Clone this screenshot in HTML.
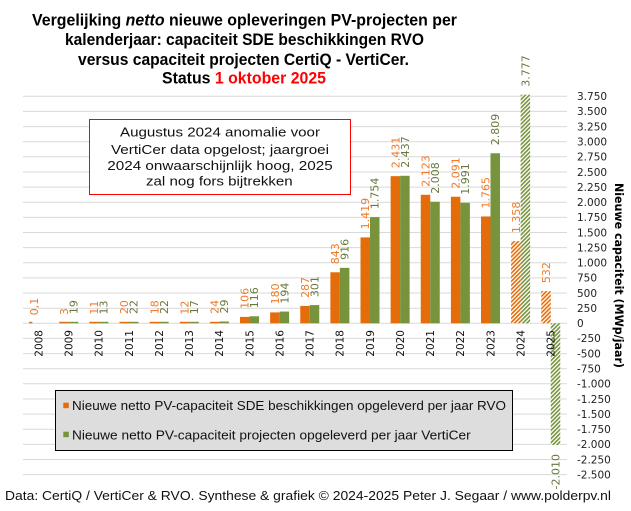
<!DOCTYPE html>
<html><head><meta charset="utf-8"><style>
html,body{margin:0;padding:0;background:#fff;}
svg{display:block;}
text{font-family:"DejaVu Sans","Liberation Sans",sans-serif;}
.ls{font-family:"Liberation Sans","DejaVu Sans",sans-serif;}
</style></head><body>
<svg width="631" height="511" viewBox="0 0 631 511" xmlns="http://www.w3.org/2000/svg">
<defs>
<pattern id="ho" width="2.9" height="2.9" patternUnits="userSpaceOnUse" patternTransform="rotate(45)"><rect width="2.9" height="2.9" fill="#fff"/><rect width="1.6" height="2.9" fill="#E46C0A"/></pattern>
<pattern id="hg" width="2.9" height="2.9" patternUnits="userSpaceOnUse" patternTransform="rotate(45)"><rect width="2.9" height="2.9" fill="#fff"/><rect width="1.6" height="2.9" fill="#77933C"/></pattern>
</defs>
<rect width="631" height="511" fill="#fff"/>
<!-- title -->
<g font-weight="bold" font-size="16.5" fill="#000" class="ls">
<text class="ls" x="32" y="25.5" textLength="425" lengthAdjust="spacingAndGlyphs">Vergelijking  <tspan font-style="italic">netto</tspan> nieuwe opleveringen  PV-projecten per</text>
<text class="ls" x="65" y="45.2" textLength="359" lengthAdjust="spacingAndGlyphs">kalenderjaar: capaciteit  SDE beschikkingen  RVO</text>
<text class="ls" x="78" y="64.8" textLength="331" lengthAdjust="spacingAndGlyphs">versus capaciteit  projecten CertiQ - VertiCer.</text>
<text class="ls" x="162" y="83.5" textLength="164" lengthAdjust="spacingAndGlyphs">Status <tspan fill="#FF0000">1 oktober 2025</tspan></text>
</g>
<!-- gridlines -->
<g stroke="#D9D9D9" stroke-width="1">
<line x1="23" x2="567" y1="96.3" y2="96.3"/><line x1="23" x2="567" y1="111.4" y2="111.4"/><line x1="23" x2="567" y1="126.6" y2="126.6"/><line x1="23" x2="567" y1="141.7" y2="141.7"/><line x1="23" x2="567" y1="156.8" y2="156.8"/><line x1="23" x2="567" y1="172" y2="172"/><line x1="23" x2="567" y1="187.1" y2="187.1"/><line x1="23" x2="567" y1="202.2" y2="202.2"/><line x1="23" x2="567" y1="217.4" y2="217.4"/><line x1="23" x2="567" y1="232.5" y2="232.5"/><line x1="23" x2="567" y1="247.6" y2="247.6"/><line x1="23" x2="567" y1="262.8" y2="262.8"/><line x1="23" x2="567" y1="277.9" y2="277.9"/><line x1="23" x2="567" y1="293" y2="293"/><line x1="23" x2="567" y1="308.2" y2="308.2"/><line x1="23" x2="567" y1="323.3" y2="323.3"/><line x1="23" x2="567" y1="338.4" y2="338.4"/><line x1="23" x2="567" y1="353.6" y2="353.6"/><line x1="23" x2="567" y1="368.7" y2="368.7"/><line x1="23" x2="567" y1="383.8" y2="383.8"/><line x1="23" x2="567" y1="399" y2="399"/><line x1="23" x2="567" y1="414.1" y2="414.1"/><line x1="23" x2="567" y1="429.2" y2="429.2"/><line x1="23" x2="567" y1="444.4" y2="444.4"/><line x1="23" x2="567" y1="459.5" y2="459.5"/><line x1="23" x2="567" y1="474.6" y2="474.6"/>
</g>
<!-- right axis labels -->
<g font-size="10.5" fill="#222">
<text x="577" y="96.3" dy=".36em">3.750</text><text x="577" y="111.4" dy=".36em">3.500</text><text x="577" y="126.6" dy=".36em">3.250</text><text x="577" y="141.7" dy=".36em">3.000</text><text x="577" y="156.8" dy=".36em">2.750</text><text x="577" y="172" dy=".36em">2.500</text><text x="577" y="187.1" dy=".36em">2.250</text><text x="577" y="202.2" dy=".36em">2.000</text><text x="577" y="217.4" dy=".36em">1.750</text><text x="577" y="232.5" dy=".36em">1.500</text><text x="577" y="247.6" dy=".36em">1.250</text><text x="577" y="262.8" dy=".36em">1.000</text><text x="577" y="277.9" dy=".36em">750</text><text x="577" y="293" dy=".36em">500</text><text x="577" y="308.2" dy=".36em">250</text><text x="577" y="323.3" dy=".36em">0</text><text x="577" y="338.4" dy=".36em">-250</text><text x="577" y="353.6" dy=".36em">-500</text><text x="577" y="368.7" dy=".36em">-750</text><text x="577" y="383.8" dy=".36em">-1.000</text><text x="577" y="399" dy=".36em">-1.250</text><text x="577" y="414.1" dy=".36em">-1.500</text><text x="577" y="429.2" dy=".36em">-1.750</text><text x="577" y="444.4" dy=".36em">-2.000</text><text x="577" y="459.5" dy=".36em">-2.250</text><text x="577" y="474.6" dy=".36em">-2.500</text>
</g>
<text font-size="11.5" font-weight="bold" fill="#000" textLength="185" lengthAdjust="spacingAndGlyphs" transform="translate(619,183) rotate(90)" dy=".36em">Nieuwe capaciteit (MWp/jaar)</text>
<!-- bars orange -->
<g fill="#E46C0A">
<rect x="29.1" y="321.8" width="3.2" height="1.5"/>
<rect x="59.25" y="321.8" width="9.5" height="1.5"/>
<rect x="89.38" y="321.8" width="9.5" height="1.5"/>
<rect x="119.5" y="321.8" width="9.5" height="1.5"/>
<rect x="149.63" y="321.8" width="9.5" height="1.5"/>
<rect x="179.75" y="321.8" width="9.5" height="1.5"/>
<rect x="209.88" y="321.8" width="9.5" height="1.5"/>
<rect x="240" y="316.88" width="9.5" height="6.42"/>
<rect x="270.13" y="312.4" width="9.5" height="10.9"/>
<rect x="300.25" y="305.93" width="9.5" height="17.37"/>
<rect x="330.38" y="272.27" width="9.5" height="51.03"/>
<rect x="360.5" y="237.41" width="9.5" height="85.89"/>
<rect x="390.63" y="176.15" width="9.5" height="147.15"/>
<rect x="420.75" y="194.79" width="9.5" height="128.51"/>
<rect x="450.88" y="196.73" width="9.5" height="126.57"/>
<rect x="481" y="216.46" width="9.5" height="106.84"/>
</g>
<g fill="#77933C">
<rect x="68.75" y="321.8" width="9.5" height="1.5"/>
<rect x="98.88" y="321.8" width="9.5" height="1.5"/>
<rect x="129" y="321.8" width="9.5" height="1.5"/>
<rect x="159.13" y="321.8" width="9.5" height="1.5"/>
<rect x="189.25" y="321.8" width="9.5" height="1.5"/>
<rect x="219.38" y="321.5" width="9.5" height="1.8"/>
<rect x="249.5" y="316.28" width="9.5" height="7.02"/>
<rect x="279.63" y="311.56" width="9.5" height="11.74"/>
<rect x="309.75" y="305.08" width="9.5" height="18.22"/>
<rect x="339.88" y="267.85" width="9.5" height="55.45"/>
<rect x="370" y="217.13" width="9.5" height="106.17"/>
<rect x="400.13" y="175.79" width="9.5" height="147.51"/>
<rect x="430.25" y="201.76" width="9.5" height="121.54"/>
<rect x="460.38" y="202.78" width="9.5" height="120.52"/>
<rect x="490.5" y="153.27" width="9.5" height="170.03"/>
</g>
<!-- hatched -->
<rect x="511.13" y="241.1" width="9.5" height="82.2" fill="url(#ho)"/>
<rect x="520.63" y="94.68" width="9.5" height="228.62" fill="url(#hg)"/>
<rect x="541.25" y="291.1" width="9.5" height="32.2" fill="url(#ho)"/>
<rect x="550.75" y="323.3" width="9.5" height="121.67" fill="url(#hg)"/>
<!-- value labels orange -->
<g font-size="11" fill="#F07A2A">
<text transform="translate(33.9,315.3) rotate(-90)" dy=".36em">0,1</text>
<text transform="translate(64,315.1) rotate(-90)" dy=".36em">3</text>
<text transform="translate(94.1,314.6) rotate(-90)" dy=".36em">11</text>
<text transform="translate(124.25,314.1) rotate(-90)" dy=".36em">20</text>
<text transform="translate(154.4,314.2) rotate(-90)" dy=".36em">18</text>
<text transform="translate(184.5,314.6) rotate(-90)" dy=".36em">12</text>
<text transform="translate(214.6,313.9) rotate(-90)" dy=".36em">24</text>
<text transform="translate(244.75,308.9) rotate(-90)" dy=".36em">106</text>
<text transform="translate(274.9,304.4) rotate(-90)" dy=".36em">180</text>
<text transform="translate(305,297.9) rotate(-90)" dy=".36em">287</text>
<text transform="translate(335.1,264.3) rotate(-90)" dy=".36em">843</text>
<text transform="translate(365.25,229.4) rotate(-90)" dy=".36em">1.419</text>
<text transform="translate(395.4,168.2) rotate(-90)" dy=".36em">2.431</text>
<text transform="translate(425.5,186.8) rotate(-90)" dy=".36em">2.123</text>
<text transform="translate(455.6,188.7) rotate(-90)" dy=".36em">2.091</text>
<text transform="translate(485.75,208.5) rotate(-90)" dy=".36em">1.765</text>
<text transform="translate(515.9,233.1) rotate(-90)" dy=".36em">1.358</text>
<text transform="translate(546,283.1) rotate(-90)" dy=".36em">532</text>
</g>
<g font-size="11" fill="#66793F">
<text transform="translate(73.5,314.1) rotate(-90)" dy=".36em">19</text>
<text transform="translate(103.6,314.5) rotate(-90)" dy=".36em">13</text>
<text transform="translate(133.75,314) rotate(-90)" dy=".36em">22</text>
<text transform="translate(163.9,314) rotate(-90)" dy=".36em">22</text>
<text transform="translate(194,314.3) rotate(-90)" dy=".36em">17</text>
<text transform="translate(224.1,313.5) rotate(-90)" dy=".36em">29</text>
<text transform="translate(254.25,308.3) rotate(-90)" dy=".36em">116</text>
<text transform="translate(284.4,303.6) rotate(-90)" dy=".36em">194</text>
<text transform="translate(314.5,297.1) rotate(-90)" dy=".36em">301</text>
<text transform="translate(344.6,259.9) rotate(-90)" dy=".36em">916</text>
<text transform="translate(374.75,209.1) rotate(-90)" dy=".36em">1.754</text>
<text transform="translate(404.9,167.8) rotate(-90)" dy=".36em">2.437</text>
<text transform="translate(435,193.8) rotate(-90)" dy=".36em">2.008</text>
<text transform="translate(465.1,194.8) rotate(-90)" dy=".36em">1.991</text>
<text transform="translate(495.25,145.3) rotate(-90)" dy=".36em">2.809</text>
<text transform="translate(525.4,86.7) rotate(-90)" dy=".36em">3.777</text>
<text transform="translate(555.5,454) rotate(-90)" dy=".36em" text-anchor="end">-2.010</text>
</g>
<!-- year labels -->
<g font-size="10.5" fill="#111" text-anchor="end">
<text transform="translate(38.6,330) rotate(-90)" dy=".36em">2008</text>
<text transform="translate(68.75,330) rotate(-90)" dy=".36em">2009</text>
<text transform="translate(98.9,330) rotate(-90)" dy=".36em">2010</text>
<text transform="translate(129,330) rotate(-90)" dy=".36em">2011</text>
<text transform="translate(159.1,330) rotate(-90)" dy=".36em">2012</text>
<text transform="translate(189.25,330) rotate(-90)" dy=".36em">2013</text>
<text transform="translate(219.4,330) rotate(-90)" dy=".36em">2014</text>
<text transform="translate(249.5,330) rotate(-90)" dy=".36em">2015</text>
<text transform="translate(279.6,330) rotate(-90)" dy=".36em">2016</text>
<text transform="translate(309.75,330) rotate(-90)" dy=".36em">2017</text>
<text transform="translate(339.9,330) rotate(-90)" dy=".36em">2018</text>
<text transform="translate(370,330) rotate(-90)" dy=".36em">2019</text>
<text transform="translate(400.1,330) rotate(-90)" dy=".36em">2020</text>
<text transform="translate(430.25,330) rotate(-90)" dy=".36em">2021</text>
<text transform="translate(460.4,330) rotate(-90)" dy=".36em">2022</text>
<text transform="translate(490.5,330) rotate(-90)" dy=".36em">2023</text>
<text transform="translate(520.6,330) rotate(-90)" dy=".36em">2024</text>
<text transform="translate(550.75,330) rotate(-90)" dy=".36em">2025</text>
</g>
<!-- annotation box -->
<rect x="89.5" y="119.5" width="261" height="75" fill="#fff" stroke="#FF0000" stroke-width="1"/>
<g font-size="12.5" fill="#111">
<text class="ls" x="120" y="136.7" textLength="200" lengthAdjust="spacingAndGlyphs">Augustus 2024 anomalie  voor</text>
<text class="ls" x="111" y="154" textLength="218" lengthAdjust="spacingAndGlyphs">VertiCer data opgelost; jaargroei</text>
<text class="ls" x="107.3" y="170" textLength="225.4" lengthAdjust="spacingAndGlyphs">2024 onwaarschijnlijk  hoog, 2025</text>
<text class="ls" x="146" y="185.7" textLength="146.7" lengthAdjust="spacingAndGlyphs">zal nog fors bijtrekken</text>
</g>
<!-- legend -->
<rect x="55.5" y="390.5" width="457" height="60" fill="#DDDDDD" stroke="#000" stroke-width="1"/>
<rect x="63.3" y="402.7" width="5.5" height="5.5" fill="#E46C0A"/>
<rect x="63.3" y="431.7" width="5.5" height="5.5" fill="#77933C"/>
<g font-size="12.5" fill="#111">
<text class="ls" x="72" y="410" textLength="434" lengthAdjust="spacingAndGlyphs">Nieuwe netto PV-capaciteit SDE beschikkingen opgeleverd per jaar RVO</text>
<text class="ls" x="72" y="439.3" textLength="398.7" lengthAdjust="spacingAndGlyphs">Nieuwe netto PV-capaciteit projecten opgeleverd per jaar VertiCer</text>
</g>
<!-- footer -->
<text class="ls" x="5" y="500" font-size="13" fill="#111" textLength="606" lengthAdjust="spacingAndGlyphs">Data: CertiQ / VertiCer &amp; RVO. Synthese &amp; grafiek © 2024-2025 Peter J. Segaar / www.polderpv.nl</text>
</svg>
</body></html>
